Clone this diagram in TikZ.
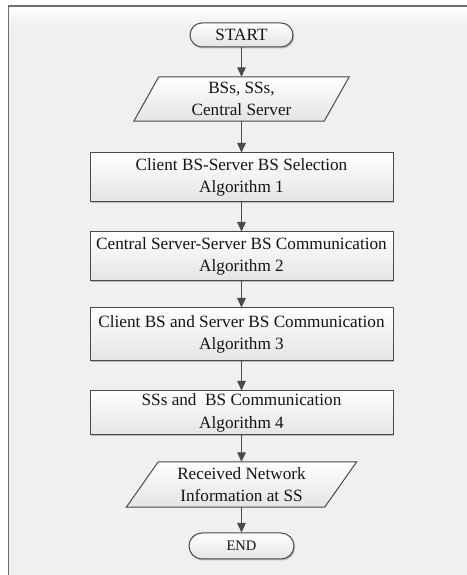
\documentclass[tikz,border=0pt]{standalone}
\usepackage{fontspec}
\setmainfont{Liberation Serif}
\usetikzlibrary{arrows.meta,shadows}
\pgfdeclarelayer{panel}
\pgfdeclarelayer{background}
\pgfsetlayers{panel,background,main}
\definecolor{pagebg}{HTML}{F0F0F0}
\definecolor{edge}{HTML}{4A4A4A}
\definecolor{boxbot}{HTML}{E4E4E4}
\definecolor{ink}{HTML}{141414}

\tikzset{
  txt/.style={font=\fontsize{17.2}{22.5}\selectfont, align=center, text=ink, inner sep=0pt},
  boxshadow/.style={drop shadow={shadow xshift=1.2pt, shadow yshift=-1.5pt, opacity=0.22, fill=black}},
  procbox/.style={txt, draw=edge, line width=1pt, top color=white, bottom color=boxbot,
    minimum width=303, boxshadow},
  terminal/.style={txt, draw=edge, line width=1pt, top color=white, bottom color=boxbot, boxshadow},
  iotext/.style={txt, minimum height=44},
  iobox/.style={draw=edge, line width=1pt, top color=white, bottom color=boxbot},
  ioshadow/.style={fill=black, opacity=0.22, shift={(1.2,-1.5)}},
  flow/.style={draw=edge, line width=1.3pt, -{Triangle[length=9.5pt,width=8.5pt]}},
}

\begin{document}
\begin{tikzpicture}[x=1pt,y=1pt]
  \useasboundingbox (0,0) rectangle (466,575);
  \clip (0,0) rectangle (466,575);

  % framed panel behind the chart
  \begin{pgfonlayer}{panel}
    \fill[pagebg] (8.5,-10) rectangle (480,569);
    \shade[top color=white, bottom color=pagebg] (8.5,549) rectangle (480,569);
    \draw[edge!80, line width=1.3pt] (8.5,-10) -- (8.5,569) -- (480,569);
  \end{pgfonlayer}

  % terminals and process steps
  \node[terminal, minimum width=103, minimum height=24, rounded corners=12] (start) at (241.5,540) {START};
  \node[iotext, minimum width=190] (in1) at (241.5,476) {BSs, SSs,\\Central Server};
  \node[procbox, minimum height=49] (b1) at (241.5,397.5) {Client BS-Server BS Selection\\Algorithm 1};
  \node[procbox, minimum height=49] (b2) at (241.5,318.5) {Central Server-Server BS Communication\\Algorithm 2};
  \node[procbox, minimum height=53] (b3) at (241.5,240.5) {Client BS and Server BS Communication\\Algorithm 3};
  \node[procbox, minimum height=44] (b4) at (241.5,162) {SSs and\ \ BS Communication\\Algorithm 4};
  \node[iotext, minimum width=198, minimum height=45] (in2) at (241.5,90.5) {Received Network\\Information at SS};
  \node[terminal, minimum width=105, minimum height=26, rounded corners=13,
        font=\fontsize{14.5}{17}\selectfont] (end) at (241.5,29) {END};

  % slanted input/output outlines behind their labels
  \begin{pgfonlayer}{background}
    \fill[ioshadow] ([xshift=-12.5]in1.south west) -- ([xshift=-12.5]in1.south east)
      -- ([xshift=12.5]in1.north east) -- ([xshift=12.5]in1.north west) -- cycle;
    \path[iobox] ([xshift=-12.5]in1.south west) -- ([xshift=-12.5]in1.south east)
      -- ([xshift=12.5]in1.north east) -- ([xshift=12.5]in1.north west) -- cycle;
    \fill[ioshadow] ([xshift=-16]in2.south west) -- ([xshift=-16]in2.south east)
      -- ([xshift=16]in2.north east) -- ([xshift=16]in2.north west) -- cycle;
    \path[iobox] ([xshift=-16]in2.south west) -- ([xshift=-16]in2.south east)
      -- ([xshift=16]in2.north east) -- ([xshift=16]in2.north west) -- cycle;
  \end{pgfonlayer}

  % flow connectors
  \draw[flow] (start.south) -- (in1.north);
  \draw[flow] (in1.south) -- (b1.north);
  \draw[flow] (b1.south) -- (b2.north);
  \draw[flow] (b2.south) -- (b3.north);
  \draw[flow] (b3.south) -- (b4.north);
  \draw[flow] (b4.south) -- (in2.north);
  \draw[flow] (in2.south) -- (end.north);
\end{tikzpicture}
\end{document}
